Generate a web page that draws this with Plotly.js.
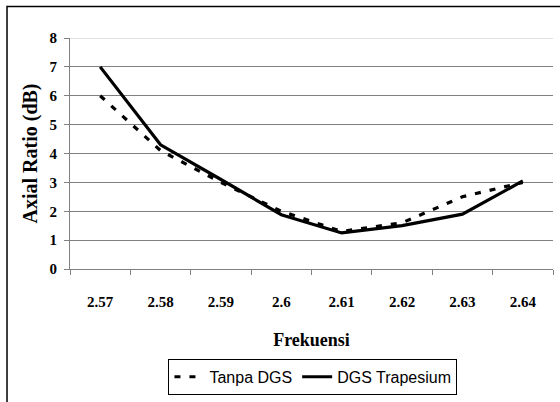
<!DOCTYPE html>
<html>
<head>
<meta charset="utf-8">
<script src="https://cdn.plot.ly/plotly-3.0.1.min.js"></script>
<style>html,body{margin:0;padding:0;background:#fff;}#chart{width:560px;height:402px;}</style>
</head>
<body>
<div id="chart"></div>
<script>
const categories = ["2.57", "2.58", "2.59", "2.6", "2.61", "2.62", "2.63", "2.64"];
const tanpaDGS = [6.0, 4.1, 3.0, 2.0, 1.3, 1.6, 2.5, 3.0];
const dgsTrapesium = [7.0, 4.3, 3.1, 1.88, 1.25, 1.5, 1.9, 3.05];
const yTicks = [0, 1, 2, 3, 4, 5, 6, 7, 8];

const serif = "Liberation Serif, Times New Roman, serif";
const sans = "Liberation Sans, Arial, sans-serif";

const traces = [
  {x: categories, y: tanpaDGS, type: "scatter", mode: "lines", name: "Tanpa DGS",
   line: {color: "#000", width: 3.2, dash: "6px,9px"}},
  {x: categories, y: dgsTrapesium, type: "scatter", mode: "lines", name: "DGS Trapesium",
   line: {color: "#000", width: 3.2}}
];

const layout = {
  width: 560, height: 402,
  margin: {l: 70, r: 7, t: 38, b: 130},
  paper_bgcolor: "#fff", plot_bgcolor: "#fff",
  showlegend: true,
  xaxis: {
    type: "category", tickson: "boundaries", range: [-0.5, categories.length - 0.5],
    showgrid: false, showline: true, linecolor: "#808080", linewidth: 1,
    ticks: "outside", ticklen: 5, tickcolor: "#808080",
    ticklabelstandoff: 19,
    tickfont: {family: serif, size: 15, color: "#000", weight: "bold"},
    title: {text: "Frekuensi", font: {family: serif, size: 18, color: "#000", weight: "bold"}, standoff: 24},
    automargin: false, fixedrange: true
  },
  yaxis: {
    range: [0, 8], tickvals: yTicks, ticktext: yTicks.map(String),
    showgrid: true, gridcolor: "#808080", gridwidth: 1, zeroline: false,
    showline: true, linecolor: "#808080", linewidth: 1,
    ticks: "outside", ticklen: 5, tickcolor: "#808080",
    ticklabelstandoff: 4,
    tickfont: {family: serif, size: 15, color: "#000", weight: "bold"},
    title: {text: "Axial Ratio (dB)", font: {family: serif, size: 20, color: "#000", weight: "bold"}, standoff: 6},
    automargin: false, fixedrange: true
  },
  legend: {
    orientation: "h", x: 0.503, xanchor: "center", y: -0.389, yanchor: "top",
    bordercolor: "#000", borderwidth: 1, bgcolor: "#fff",
    font: {family: sans, size: 16, color: "#000"},
    itemwidth: 30, tracegroupgap: 0
  },
  shapes: [
    {type: "line", xref: "paper", yref: "y", x0: 0, x1: 1, y0: 8, y1: 8,
     line: {color: "#d9d9d9", width: 1.5}, layer: "between"},
    {type: "rect", xref: "paper", yref: "paper", x0: -0.1304, x1: 1.03, y0: -0.58, y1: 1.1368,
     line: {color: "#000", width: 1.5}, layer: "below"}
  ]
};

Plotly.newPlot("chart", traces, layout, {staticPlot: true, displayModeBar: false});
</script>
</body>
</html>
